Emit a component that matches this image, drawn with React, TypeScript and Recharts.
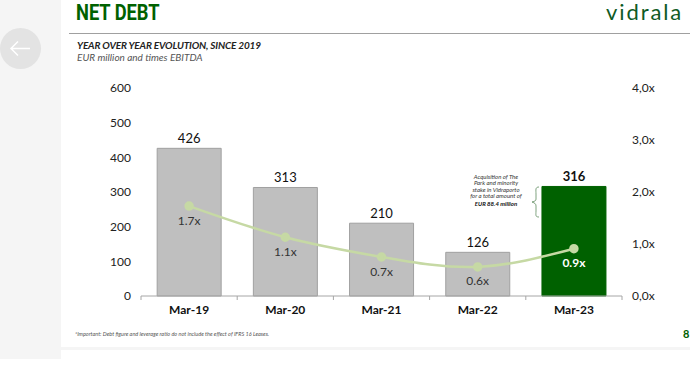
import { Bar, Cell, ComposedChart, LabelList, Line, XAxis, YAxis } from "recharts";

const periods = ["Mar-19", "Mar-20", "Mar-21", "Mar-22", "Mar-23"];
const netDebt = [426, 313, 210, 126, 316];
// line heights, the printed labels are rounded
const leverage = [1.73, 1.13, 0.75, 0.56, 0.91];
const leverageLabels = ["1.7x", "1.1x", "0.7x", "0.6x", "0.9x"];
const leftTicks = [0, 100, 200, 300, 400, 500, 600];
const rightTicks = [0, 1, 2, 3, 4];
const noteLines = ["Acquisition of The", "Park and minority", "stake in Vidraporto", "for a total amount of"];

const data = periods.map((period, i) => ({ period, netDebt: netDebt[i], leverage: leverage[i] }));

const FONT = "Lato, 'Open Sans', sans-serif";
const GREEN = "#006100";
const LAST = periods.length - 1;

function PeriodTick({ x, y, payload, index }: any) {
  const half = 48.1;
  return (
    <g>
      <line x1={x - half} x2={x - half} y1={y - 8} y2={y - 4} stroke="#a6a6a6" />
      {index === LAST && <line x1={x + half} x2={x + half} y1={y - 8} y2={y - 4} stroke="#a6a6a6" />}
      <text x={x} y={y + 10} textAnchor="middle" fontFamily={FONT} fontSize={12} fontWeight={700} fill="#111">
        {payload.value}
      </text>
    </g>
  );
}

function DebtLabel({ x, y, width, value, index }: any) {
  const last = index === LAST;
  return (
    <text
      x={x + width / 2}
      y={y - 5}
      textAnchor="middle"
      fontFamily={FONT}
      fontSize={13}
      fontWeight={last ? 700 : 400}
      fill="#111"
    >
      {value}
    </text>
  );
}

function LeverageLabel({ x, y, index }: any) {
  const last = index === LAST;
  return (
    <text
      x={x}
      y={y + 18.5}
      textAnchor="middle"
      fontFamily={FONT}
      fontSize={12}
      fontWeight={last ? 700 : 400}
      fill={last ? "#ffffff" : "#333"}
    >
      {leverageLabels[index]}
    </text>
  );
}

export default function App() {
  return (
    <div style={{ position: "absolute", left: 0, top: 0, width: 690, height: 375, background: "#fff", overflow: "hidden", fontFamily: FONT }}>
      {/* page furniture behind the chart */}
      <div style={{ position: "absolute", left: 0, top: 0, width: 61, height: 359, background: "#f5f5f5" }} />
      <div style={{ position: "absolute", left: 61, top: 347, width: 629, height: 3, background: "#f5f5f5" }} />
      <div style={{ position: "absolute", left: 69, top: 33, width: 621, height: 1, background: "#a0a0a0" }} />
      <div style={{ position: "absolute", left: 0, top: 28, width: 41, height: 41, borderRadius: "50%", background: "#e3e3e3" }} />
      <svg style={{ position: "absolute", left: 0, top: 0 }} width={61} height={80}>
        <path d="M11 48.5H30M18 41.5L11 48.5L18 55.5" fill="none" stroke="#fff" strokeWidth={1.5} />
      </svg>

      <div style={{ position: "absolute", left: 76, top: 0, fontFamily: "Roboto, sans-serif", fontSize: 22, fontWeight: 700, color: GREEN, lineHeight: "26px", transform: "scaleX(0.83)", transformOrigin: "left top", whiteSpace: "nowrap" }}>
        NET DEBT
      </div>
      <div style={{ position: "absolute", left: 606, top: -1, fontFamily: "Lato, sans-serif", fontSize: 22, color: "#0f5a24", lineHeight: "26px", letterSpacing: 1.9, whiteSpace: "nowrap" }}>
        vidrala
      </div>
      <div style={{ position: "absolute", left: 77, top: 39, fontSize: 10, fontWeight: 700, fontStyle: "italic", color: "#222", lineHeight: "13px", letterSpacing: -0.16 }}>
        YEAR OVER YEAR EVOLUTION, SINCE 2019
      </div>
      <div style={{ position: "absolute", left: 77, top: 51, fontSize: 10, fontStyle: "italic", color: "#555", lineHeight: "13px" }}>
        EUR million and times EBITDA
      </div>

      <div style={{ position: "absolute", left: 0, top: 0 }}>
        <ComposedChart width={690} height={375} data={data} margin={{ top: 88, right: 0, bottom: 0, left: 0 }} barCategoryGap="16.8%">
          <XAxis
            dataKey="period"
            axisLine={{ stroke: "#a6a6a6" }}
            tickLine={false}
            tick={<PeriodTick />}
            height={79}
            interval={0}
          />
          <YAxis
            yAxisId="debt"
            width={141}
            domain={[0, 600]}
            ticks={leftTicks}
            axisLine={false}
            tickLine={false}
            tickMargin={4}
            tick={{ fontFamily: FONT, fontSize: 12, fill: "#222" }}
          />
          <YAxis
            yAxisId="times"
            orientation="right"
            width={68}
            domain={[0, 4]}
            ticks={rightTicks}
            axisLine={false}
            tickLine={false}
            tickMargin={4}
            tickFormatter={(v: number) => v.toFixed(1).replace(".", ",") + "x"}
            tick={{ fontFamily: FONT, fontSize: 12, fill: "#222" }}
          />
          <Bar yAxisId="debt" dataKey="netDebt" fill="#bfbfbf" stroke="#a0a0a0" isAnimationActive={false}>
            {periods.map((p, i) => (
              <Cell key={p} fill={i === LAST ? GREEN : "#bfbfbf"} stroke={i === LAST ? GREEN : "#a0a0a0"} />
            ))}
            <LabelList dataKey="netDebt" content={<DebtLabel />} />
          </Bar>
          <Line
            yAxisId="times"
            dataKey="leverage"
            type="natural"
            stroke="#c6d9a4"
            strokeWidth={2.5}
            dot={{ r: 3.5, fill: "#c6d9a4", stroke: "#c6d9a4" }}
            isAnimationActive={false}
          >
            <LabelList dataKey="leverage" content={<LeverageLabel />} />
          </Line>
        </ComposedChart>
      </div>

      {/* acquisition note next to the last bar */}
      <div style={{ position: "absolute", left: 459, top: 174, width: 74, textAlign: "center", fontSize: 6, fontStyle: "italic", color: "#333", lineHeight: "6.4px" }}>
        {noteLines.map((line) => (
          <div key={line} style={{ whiteSpace: "nowrap" }}>{line}</div>
        ))}
        <div style={{ fontWeight: 700, color: "#111", whiteSpace: "nowrap", marginTop: 1 }}>EUR 88.4 million</div>
      </div>
      <svg style={{ position: "absolute", left: 530, top: 186 }} width={12} height={34}>
        <path d="M9 1C5 1 6 4 6 8V13C6 15 5 15 2 16C5 17 6 18 6 20V25C6 29 5 31 9 31" fill="none" stroke="#5d8a5d" strokeWidth={0.8} />
      </svg>

      <div style={{ position: "absolute", left: 75, top: 331, fontSize: 5.5, fontStyle: "italic", color: "#555", whiteSpace: "nowrap" }}>
        *Important: Debt figure and leverage ratio do not include the effect of IFRS 16 Leases.
      </div>
      <div style={{ position: "absolute", left: 683, top: 327, fontSize: 11, fontWeight: 700, color: GREEN }}>8</div>
    </div>
  );
}
